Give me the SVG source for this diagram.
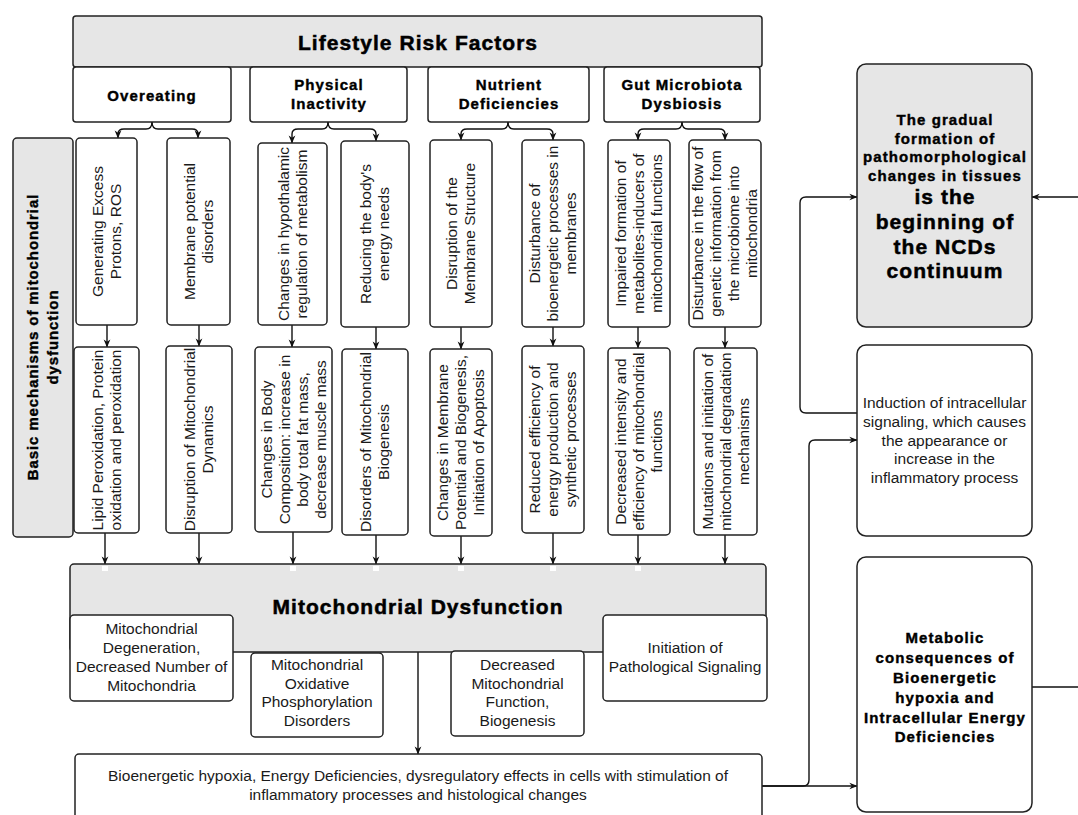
<svg xmlns="http://www.w3.org/2000/svg" width="1078" height="815" viewBox="0 0 1078 815">
<defs>
<marker id="arr" viewBox="0 0 10 10" refX="9.5" refY="5" markerWidth="8" markerHeight="8" markerUnits="userSpaceOnUse" orient="auto">
<path d="M0,0.8 L10,5 L0,9.2 L3,5 z" fill="#111"/>
</marker>
<style>
.box{fill:#fff;stroke:#222;stroke-width:1.5}
.gray{fill:#e6e6e6;stroke:#222;stroke-width:1.5}
.t{font-family:"Liberation Sans",Arial,sans-serif;font-size:15.5px;fill:#1a1a1a;text-anchor:middle}
.h{font-size:15px;font-weight:bold;letter-spacing:1.1px;fill:#000;stroke:#000;stroke-width:0.4}
.h21{font-size:21px;letter-spacing:1.05px;stroke-width:0.5}
.conn{fill:none;stroke:#111;stroke-width:1.4;marker-end:url(#arr)}
.dot{fill:#fff}
</style>
</defs>

<g id="connectors">
<path class="conn" d="M152,122 Q152,129 146,129 H124 Q118,129 118,134 V138"/>
<path class="conn" d="M152,122 Q152,129 158,129 H192 Q198,129 198,134 V138"/>
<path class="conn" d="M328,122 Q328,129 322,129 H298 Q292,129 292,134 V143"/>
<path class="conn" d="M328,122 Q328,129 334,129 H370 Q376,129 376,134 V141"/>
<path class="conn" d="M508,122 Q508,129 502,129 H467 Q461,129 461,134 V140"/>
<path class="conn" d="M508,122 Q508,129 514,129 H547 Q553,129 553,134 V140"/>
<path class="conn" d="M682,122 Q682,129 676,129 H644 Q638,129 638,134 V140"/>
<path class="conn" d="M682,122 Q682,129 688,129 H719 Q725,129 725,134 V140"/>
<path class="conn" d="M107,325 V347"/>
<path class="conn" d="M199,325 V346"/>
<path class="conn" d="M292,325 V347"/>
<path class="conn" d="M376,327 V349"/>
<path class="conn" d="M461,327 V349"/>
<path class="conn" d="M553,327 V346"/>
<path class="conn" d="M638,327 V348"/>
<path class="conn" d="M725,327 V348"/>
<path class="conn" d="M105,533 V564"/>
<path class="conn" d="M199,533 V564"/>
<path class="conn" d="M293,532 V564"/>
<path class="conn" d="M376,535 V564"/>
<path class="conn" d="M461,536 V564"/>
<path class="conn" d="M553,533 V564"/>
<path class="conn" d="M638,535 V564"/>
<path class="conn" d="M725,535 V564"/>
<path class="conn" d="M418,652 V754"/>
<path class="conn" d="M762,786 H857"/>
<path class="conn" d="M762,786 H803 Q809,786 809,780 V446 Q809,440 815,440 H857"/>
<path class="conn" d="M857,413 H806 Q800,413 800,407 V203 Q800,197 806,197 H857"/>
<path class="conn" d="M1032,687 H1100 V197 H1032"/>
</g>

<g id="lifestyle">
<rect class="gray" x="73" y="16" width="689" height="51" rx="3"/>
<text class="t h h21" x="418" y="49.5">Lifestyle Risk Factors</text>
</g>
<g id="overeating">
<rect class="box" x="73" y="67" width="158" height="55" rx="3"/>
<text class="t h" x="152" y="101">Overeating</text>
</g>
<g id="physical">
<rect class="box" x="250" y="67" width="157" height="55" rx="3"/>
<text class="t h" x="329" y="90">Physical<tspan x="329" y="109">Inactivity</tspan></text>
</g>
<g id="nutrient">
<rect class="box" x="428" y="67" width="161" height="55" rx="3"/>
<text class="t h" x="509" y="90">Nutrient<tspan x="509" y="109">Deficiencies</tspan></text>
</g>
<g id="gut">
<rect class="box" x="604" y="67" width="156" height="55" rx="3"/>
<text class="t h" x="682" y="90">Gut Microbiota<tspan x="682" y="109">Dysbiosis</tspan></text>
</g>

<g id="basic">
<rect class="gray" x="13" y="138" width="60" height="399" rx="4"/>
<text class="t h" style="letter-spacing:0.9px" transform="translate(43,337) rotate(-90)"><tspan x="0" y="-4.7">Basic mechanisms of mitochondrial</tspan><tspan x="0" y="15.3">dysfunction</tspan></text>
</g>

<g id="r1a">
<rect class="box" x="76" y="138" width="61" height="187" rx="4"/>
<text class="t" transform="translate(106.5,231.5) rotate(-90)"><tspan x="0" y="-3.6">Generating Excess</tspan><tspan x="0" y="14.4">Protons, ROS</tspan></text>
</g>
<g id="r1b">
<rect class="box" x="167" y="138" width="63" height="187" rx="4"/>
<text class="t" transform="translate(198.5,231.5) rotate(-90)"><tspan x="0" y="-3.6">Membrane potential</tspan><tspan x="0" y="14.4">disorders</tspan></text>
</g>
<g id="r1c">
<rect class="box" x="258" y="143" width="69" height="182" rx="4"/>
<text class="t" transform="translate(292.5,234) rotate(-90)"><tspan x="0" y="-3.6">Changes in hypothalamic</tspan><tspan x="0" y="14.4">regulation of metabolism</tspan></text>
</g>
<g id="r1d">
<rect class="box" x="341" y="141" width="68" height="186" rx="4"/>
<text class="t" transform="translate(375,234) rotate(-90)"><tspan x="0" y="-3.6">Reducing the body's</tspan><tspan x="0" y="14.4">energy needs</tspan></text>
</g>
<g id="r1e">
<rect class="box" x="430" y="140" width="62" height="187" rx="4"/>
<text class="t" transform="translate(461,233.5) rotate(-90)"><tspan x="0" y="-3.6">Disruption of the</tspan><tspan x="0" y="14.4">Membrane Structure</tspan></text>
</g>
<g id="r1f">
<rect class="box" x="522" y="140" width="62" height="187" rx="4"/>
<text class="t" transform="translate(553,233.5) rotate(-90)"><tspan x="0" y="-12.6">Disturbance of</tspan><tspan x="0" y="5.4">bioenergetic processes in</tspan><tspan x="0" y="23.4">membranes</tspan></text>
</g>
<g id="r1g">
<rect class="box" x="608" y="140" width="62" height="187" rx="4"/>
<text class="t" transform="translate(639,233.5) rotate(-90)"><tspan x="0" y="-12.6">Impaired formation of</tspan><tspan x="0" y="5.4">metabolites-inducers of</tspan><tspan x="0" y="23.4">mitochondrial functions</tspan></text>
</g>
<g id="r1h">
<rect class="box" x="689" y="140" width="72" height="187" rx="4"/>
<text class="t" transform="translate(725,233.5) rotate(-90)"><tspan x="0" y="-21.6">Disturbance in the flow of</tspan><tspan x="0" y="-3.6">genetic information from</tspan><tspan x="0" y="14.4">the microbiome into</tspan><tspan x="0" y="32.4">mitochondria</tspan></text>
</g>

<g id="r2a">
<rect class="box" x="74" y="347" width="65" height="186" rx="4"/>
<text class="t" transform="translate(106.5,440) rotate(-90)"><tspan x="0" y="-3.6">Lipid Peroxidation, Protein</tspan><tspan x="0" y="14.4">oxidation and peroxidation</tspan></text>
</g>
<g id="r2b">
<rect class="box" x="166" y="346" width="66" height="187" rx="4"/>
<text class="t" transform="translate(199,439.5) rotate(-90)"><tspan x="0" y="-3.6">Disruption of Mitochondrial</tspan><tspan x="0" y="14.4">Dynamics</tspan></text>
</g>
<g id="r2c">
<rect class="box" x="255" y="347" width="77" height="185" rx="4"/>
<text class="t" transform="translate(293.5,439.5) rotate(-90)"><tspan x="0" y="-21.6">Changes in Body</tspan><tspan x="0" y="-3.6">Composition: increase in</tspan><tspan x="0" y="14.4">body total fat mass,</tspan><tspan x="0" y="32.4">decrease muscle mass</tspan></text>
</g>
<g id="r2d">
<rect class="box" x="342" y="349" width="66" height="186" rx="4"/>
<text class="t" transform="translate(375,442) rotate(-90)"><tspan x="0" y="-3.6">Disorders of Mitochondrial</tspan><tspan x="0" y="14.4">Biogenesis</tspan></text>
</g>
<g id="r2e">
<rect class="box" x="430" y="349" width="62" height="187" rx="4"/>
<text class="t" transform="translate(461,442.5) rotate(-90)"><tspan x="0" y="-12.6">Changes in Membrane</tspan><tspan x="0" y="5.4">Potential and Biogenesis,</tspan><tspan x="0" y="23.4">Initiation of Apoptosis</tspan></text>
</g>
<g id="r2f">
<rect class="box" x="522" y="346" width="62" height="187" rx="4"/>
<text class="t" transform="translate(553,439.5) rotate(-90)"><tspan x="0" y="-12.6">Reduced efficiency of</tspan><tspan x="0" y="5.4">energy production and</tspan><tspan x="0" y="23.4">synthetic processes</tspan></text>
</g>
<g id="r2g">
<rect class="box" x="608" y="348" width="62" height="187" rx="4"/>
<text class="t" transform="translate(639,441.5) rotate(-90)"><tspan x="0" y="-12.6">Decreased intensity and</tspan><tspan x="0" y="5.4">efficiency of mitochondrial</tspan><tspan x="0" y="23.4">functions</tspan></text>
</g>
<g id="r2h">
<rect class="box" x="694" y="348" width="63" height="187" rx="4"/>
<text class="t" transform="translate(725.5,441.5) rotate(-90)"><tspan x="0" y="-12.6">Mutations and initiation of</tspan><tspan x="0" y="5.4">mitochondrial degradation</tspan><tspan x="0" y="23.4">mechanisms</tspan></text>
</g>

<g id="md">
<rect class="gray" x="70" y="564" width="696" height="88" rx="4"/>
<rect class="dot" x="102" y="566" width="6" height="5"/>
<rect class="dot" x="290" y="566" width="6" height="5"/>
<rect class="dot" x="373" y="566" width="6" height="5"/>
<rect class="dot" x="458" y="566" width="6" height="5"/>
<rect class="dot" x="550" y="566" width="6" height="5"/>
<rect class="dot" x="635" y="566" width="6" height="5"/>
<text class="t h h21" x="418" y="614">Mitochondrial Dysfunction</text>
</g>
<g id="md1">
<rect class="box" x="70" y="615" width="163" height="86" rx="4"/>
<text class="t" x="151.5" y="634.3">Mitochondrial<tspan x="151.5" y="653.3">Degeneration,</tspan><tspan x="151.5" y="672.3">Decreased Number of</tspan><tspan x="151.5" y="691.3">Mitochondria</tspan></text>
</g>
<g id="md2">
<rect class="box" x="251" y="653" width="132" height="84" rx="4"/>
<text class="t" x="317" y="670.3">Mitochondrial<tspan x="317" y="688.8">Oxidative</tspan><tspan x="317" y="707.3">Phosphorylation</tspan><tspan x="317" y="725.8">Disorders</tspan></text>
</g>
<g id="md3">
<rect class="box" x="451" y="651" width="133" height="85" rx="4"/>
<text class="t" x="517.5" y="670.3">Decreased<tspan x="517.5" y="688.8">Mitochondrial</tspan><tspan x="517.5" y="707.3">Function,</tspan><tspan x="517.5" y="725.8">Biogenesis</tspan></text>
</g>
<g id="md4">
<rect class="box" x="603" y="615" width="164" height="86" rx="4"/>
<text class="t" x="685" y="653.3">Initiation of<tspan x="685" y="672.3">Pathological Signaling</tspan></text>
</g>

<g id="bottom">
<rect class="box" x="75" y="754" width="687" height="66" rx="4"/>
<text class="t" x="418" y="781.3">Bioenergetic hypoxia, Energy Deficiencies, dysregulatory effects in cells with stimulation of<tspan x="418" y="800.3">inflammatory processes and histological changes</tspan></text>
</g>

<g id="gradual">
<rect class="gray" x="857" y="64" width="175" height="263" rx="9"/>
<text class="t h" x="945" y="125.3">The gradual<tspan x="945" y="143.8">formation of</tspan><tspan x="945" y="162.3">pathomorphological</tspan><tspan x="945" y="180.8">changes in tissues</tspan></text>
<text class="t h h21" x="945" y="204.4">is the<tspan x="945" y="229">beginning of</tspan><tspan x="945" y="253.6">the NCDs</tspan><tspan x="945" y="278.2">continuum</tspan></text>
</g>
<g id="induction">
<rect class="box" x="857" y="345" width="175" height="191" rx="9"/>
<text class="t" x="944.5" y="408.3">Induction of intracellular<tspan x="944.5" y="427">signaling, which causes</tspan><tspan x="944.5" y="445.7">the appearance or</tspan><tspan x="944.5" y="464.4">increase in the</tspan><tspan x="944.5" y="483.1">inflammatory process</tspan></text>
</g>
<g id="metabolic">
<rect class="box" x="857" y="557" width="175" height="255" rx="9"/>
<text class="t h" x="945" y="643.3">Metabolic<tspan x="945" y="663.1">consequences of</tspan><tspan x="945" y="682.9">Bioenergetic</tspan><tspan x="945" y="702.7">hypoxia and</tspan><tspan x="945" y="722.5">Intracellular Energy</tspan><tspan x="945" y="742.3">Deficiencies</tspan></text>
</g>
</svg>
